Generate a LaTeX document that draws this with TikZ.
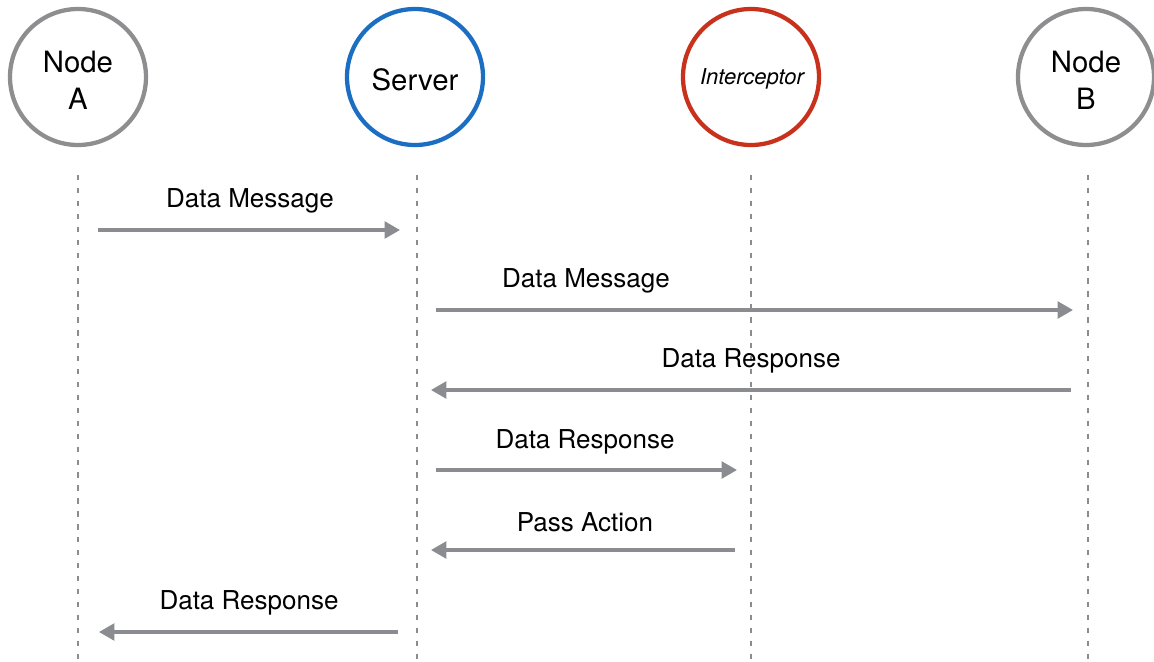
\documentclass[tikz,border=0pt]{standalone}
\usepackage{fontspec}
\setmainfont{TeX Gyre Heros}
\usetikzlibrary{arrows.meta}
\definecolor{actorgray}{HTML}{8E8E90}
\definecolor{serverblue}{HTML}{1B6EC2}
\definecolor{interred}{HTML}{C8321C}
\definecolor{msggray}{HTML}{8A8C90}
\begin{document}
\begin{tikzpicture}[x=0.75pt,y=-0.75pt,
  actor/.style={circle,draw=#1,line width=3.2pt,fill=white,minimum size=102pt,inner sep=0pt},
  actortext/.style={align=center,inner sep=0pt,font=\fontsize{22}{28}\selectfont},
  lifeline/.style={draw=msggray,line width=2.1pt,dash pattern=on 4pt off 5.7pt},
  msg/.style={draw=msggray,line width=2.5pt,-{Triangle[length=11.5pt,width=12.5pt]}},
  msglabel/.style={font=\fontsize{19.5}{23}\selectfont,inner sep=0pt}]
\useasboundingbox (0,0) rectangle (1154,661);

% participants
\node[actor=actorgray] (A) at (78,77) {};
\node[actor=serverblue] (S) at (415,77) {};
\node[actor=interred] (I) at (751,77) {};
\node[actor=actorgray] (B) at (1086,77) {};
\node[actortext] (At) at (78,80) {Node\\A};
\node[actortext] (St) at (415,80) {Server};
\node[actortext,font=\fontsize{16.5}{20}\selectfont\itshape] (It) at (752,79) {Interceptor};
\node[actortext] (Bt) at (1086,80) {Node\\B};

% lifelines
\coordinate (Atop) at (78,175);   \coordinate (Abot) at (78,661);
\coordinate (Stop) at (417,175);  \coordinate (Sbot) at (417,661);
\coordinate (Itop) at (751,175);  \coordinate (Ibot) at (751,661);
\coordinate (Btop) at (1088,175); \coordinate (Bbot) at (1088,661);
\foreach \p in {A,S,I,B} \draw[lifeline] (\p top) -- (\p bot);

% message end points
\coordinate (m1a) at (98,230);   \coordinate (m1b) at (400,230);
\coordinate (m2a) at (436,310);  \coordinate (m2b) at (1073,310);
\coordinate (m3a) at (1071,390); \coordinate (m3b) at (431,390);
\coordinate (m4a) at (436,470);  \coordinate (m4b) at (737,470);
\coordinate (m5a) at (735,550);  \coordinate (m5b) at (431,550);
\coordinate (m6a) at (398,632);  \coordinate (m6b) at (99,632);

% messages
\draw[msg] (m1a) -- (m1b);
\draw[msg] (m2a) -- (m2b);
\draw[msg] (m3a) -- (m3b);
\draw[msg] (m4a) -- (m4b);
\draw[msg] (m5a) -- (m5b);
\draw[msg] (m6a) -- (m6b);

% message labels
\node[msglabel] (l1) at (250,201) {Data Message};
\node[msglabel] (l2) at (586,281) {Data Message};
\node[msglabel] (l3) at (751,361) {Data Response};
\node[msglabel] (l4) at (585,442) {Data Response};
\node[msglabel] (l5) at (585,522) {Pass Action};
\node[msglabel] (l6) at (249,603) {Data Response};
\end{tikzpicture}
\end{document}
